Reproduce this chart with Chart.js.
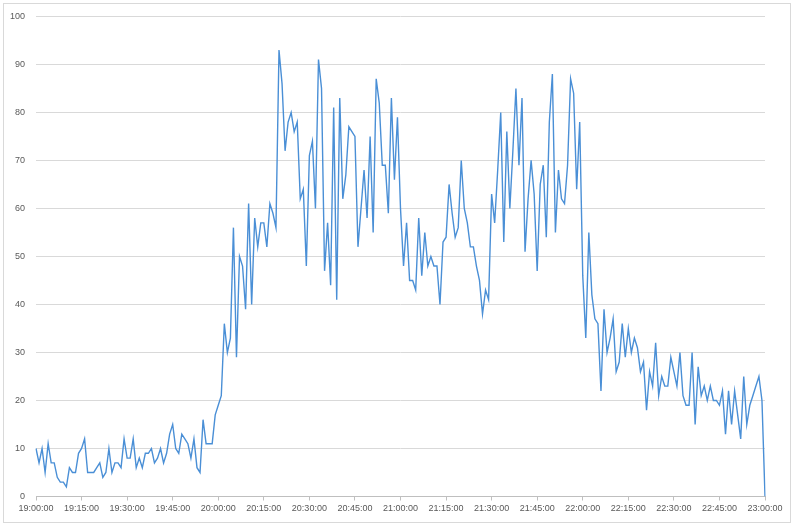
<!DOCTYPE html>
<html>
<head>
<meta charset="utf-8">
<script src="https://cdn.jsdelivr.net/npm/chart.js@4.4.1/dist/chart.umd.min.js"></script>
<style>
  html, body { margin: 0; padding: 0; background: #ffffff; }
  #wrap { position: relative; width: 800px; height: 525px; }
  #frame { position: absolute; left: 3px; top: 3px; width: 788px; height: 520px; border: 1px solid #d9d9d9; box-sizing: border-box; pointer-events: none; }
  canvas { position: absolute; left: 0; top: 0; }
</style>
</head>
<body>
<div id="wrap">
  <canvas id="c" width="800" height="525"></canvas>
  <div id="frame"></div>
</div>
<script>
// Start time and minute step of the category axis
const startHour = 19;
const minuteCount = 241;
const labelEvery = 15;

// Values, one per minute from 19:00:00 to 23:00:00
const values1900 = [10,7,10,5,11,7,7,4,3,3,2,6,5,5,9, 10,12,5,5,5,6,7,4,5,10,5,7,7,6,12,
                    8,8,12,6,8,6,9,9,10,7,8,10,7,9,13, 15,10,9,13,12,11,8,12,6,5,16,11,11,11,17];
const values2000 = [19,21,36,30,33,56,29,50,48,39,61,40,58,52,57, 57,52,61,59,56,93,86,72,78,80,76,78,62,64,48,
                    71,74,60,91,85,47,57,44,81,41,83,62,67,77,76, 75,52,60,68,58,75,55,87,82,69,69,59,83,66,79];
const values2100 = [60,48,57,45,45,43,58,46,55,48,50,48,48,40,53, 54,65,59,54,56,70,60,57,52,52,48,45,38,43,41,
                    63,57,68,80,53,76,60,72,85,69,83,51,62,70,63, 47,65,69,54,78,88,55,68,62,61,69,87,84,64,78];
const values2200 = [46,33,55,42,37,36,22,39,30,33,37,26,28,36,29, 35,30,33,31,26,28,18,26,23,32,21,25,23,23,29,
                    26,23,30,21,19,19,30,15,27,21,23,20,23,20,20, 19,22,13,22,15,22,17,12,25,15,19,21,23,25,20];
const values2300 = [0];

const yTicks = [0,10,20,30,40,50,60,70,80,90,100];

function pad(n){ return String(n).padStart(2,'0'); }
const categories = [];
for (let i = 0; i < minuteCount; i++) {
  const h = startHour + Math.floor(i / 60);
  const m = i % 60;
  categories.push(pad(h) + ':' + pad(m) + ':00');
}
const values = [].concat(values1900, values2000, values2100, values2200, values2300);

const font = { family: 'Liberation Sans, Arial, sans-serif', size: 9 };

new Chart(document.getElementById('c'), {
  type: 'line',
  data: {
    labels: categories,
    datasets: [{
      data: values,
      borderColor: '#4a8fd6',
      borderWidth: 1.4,
      pointRadius: 0,
      pointHoverRadius: 0,
      tension: 0,
      fill: false
    }]
  },
  options: {
    responsive: false,
    animation: false,
    devicePixelRatio: 1,
    layout: { padding: { left: 0, right: 35, top: 16, bottom: 0 } },
    plugins: { legend: { display: false }, tooltip: { enabled: false } },
    scales: {
      x: {
        type: 'category',
        offset: false,
        border: { display: true, color: '#bfbfbf', width: 1 },
        grid: {
          display: true,
          drawOnChartArea: false,
          drawTicks: true,
          tickLength: 4,
          color: (ctx) => (ctx.index % labelEvery === 0 ? '#bfbfbf' : 'rgba(0,0,0,0)')
        },
        ticks: {
          autoSkip: false,
          maxRotation: 0,
          minRotation: 0,
          padding: 3,
          color: '#595959',
          font: font,
          callback: function(value, index) {
            return index % labelEvery === 0 ? categories[index] : '';
          }
        },
        afterFit: (scale) => { scale.height = 28.5; }
      },
      y: {
        min: 0,
        max: 100,
        border: { display: false },
        grid: { color: '#d9d9d9', lineWidth: 1, drawTicks: false },
        afterBuildTicks: (scale) => { scale.ticks = yTicks.map(v => ({ value: v })); },
        ticks: {
          padding: 11,
          color: '#595959',
          font: font
        },
        afterFit: (scale) => { scale.width = 36; }
      }
    }
  }
});
</script>
</body>
</html>
